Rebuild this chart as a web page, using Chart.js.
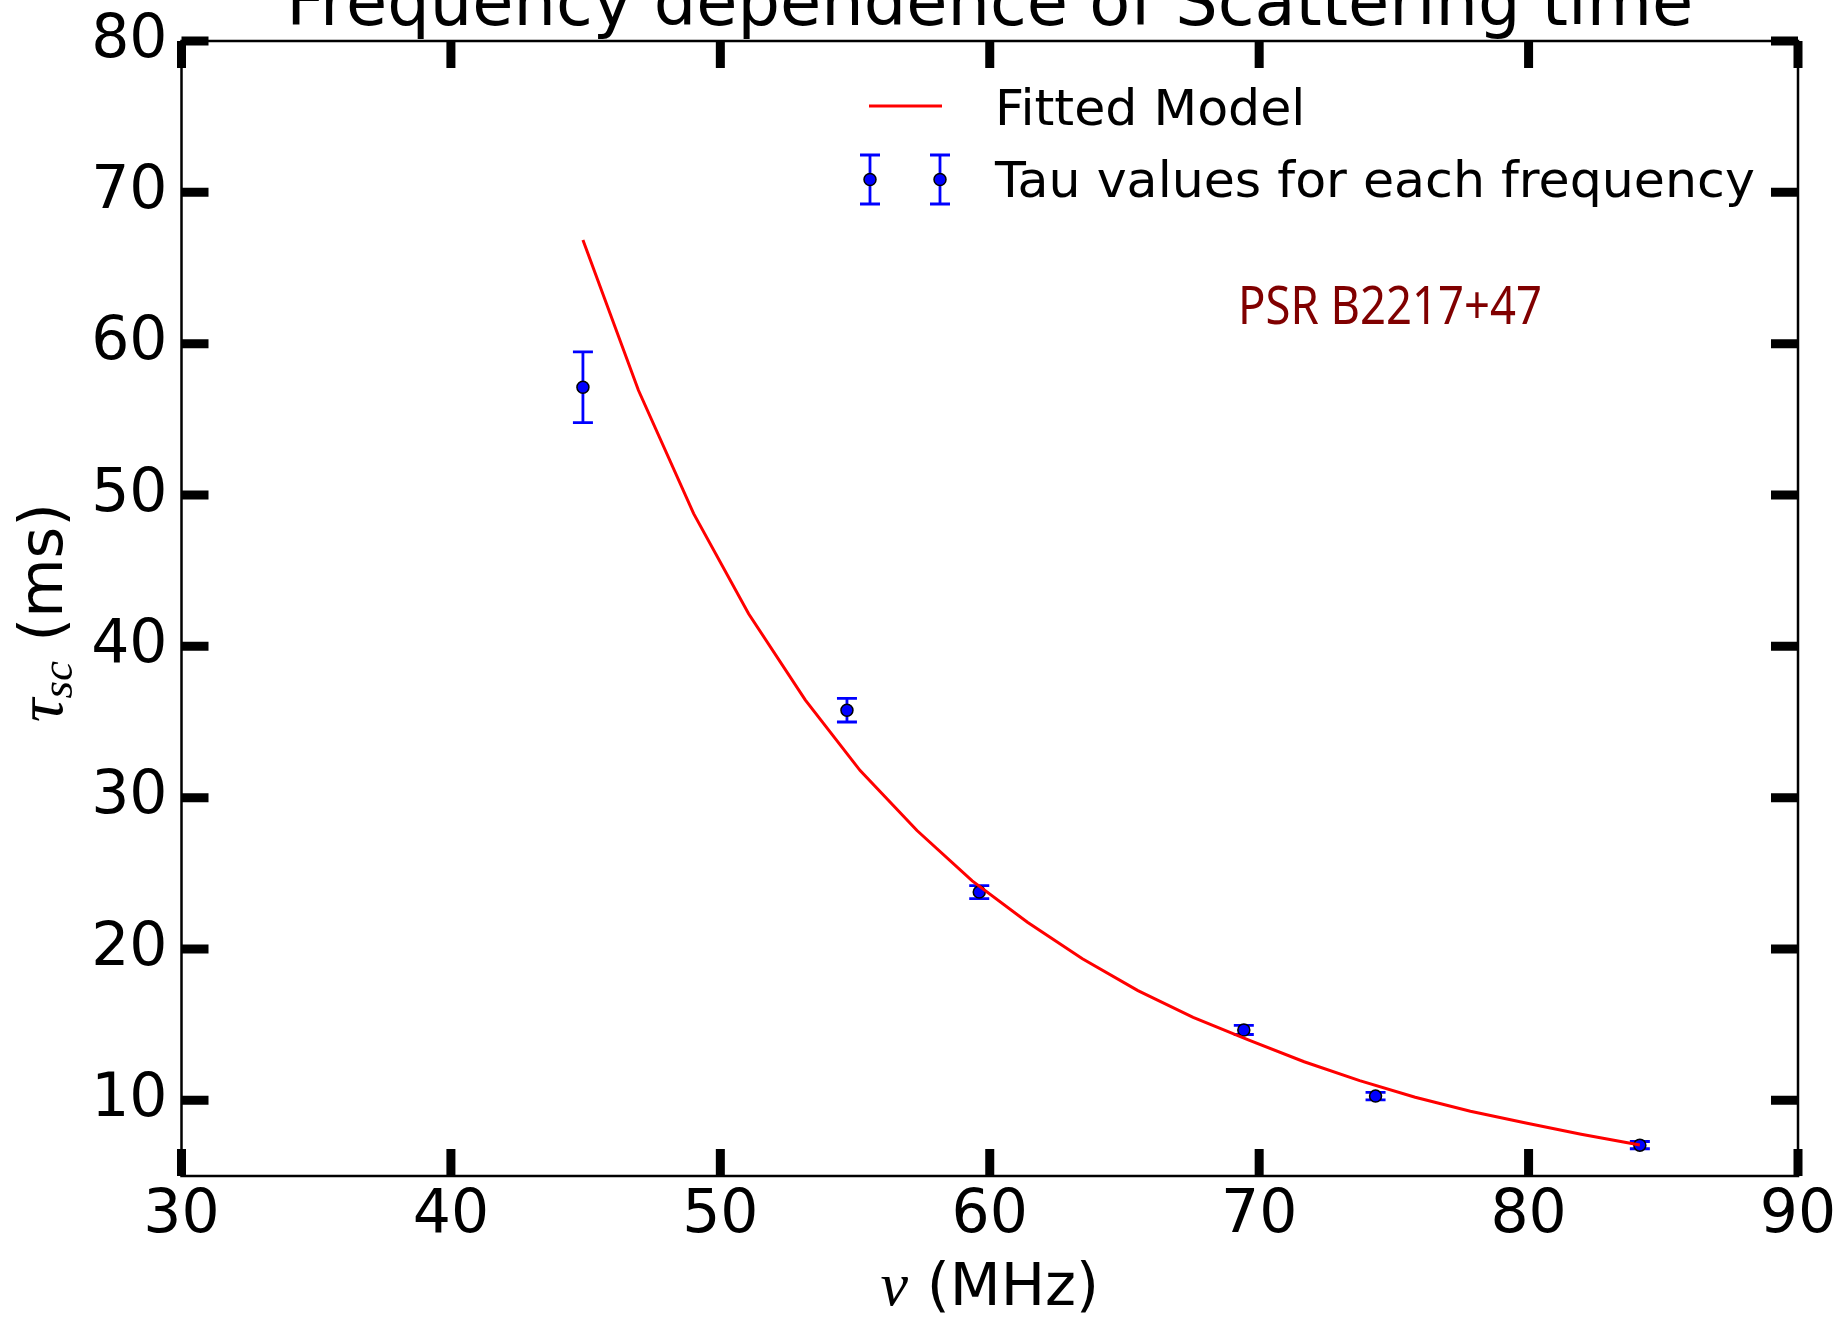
<!DOCTYPE html>
<html>
<head>
<meta charset="utf-8">
<script src="https://cdn.jsdelivr.net/npm/chart.js@4.4.1/dist/chart.umd.min.js"></script>
<style>
  html, body { margin: 0; padding: 0; background: #fff; }
  #wrap { width: 1839px; height: 1322px; position: relative; }
</style>
</head>
<body>
<div id="wrap"><canvas id="myChart"></canvas></div>
<script>
// measured scattering time (ms) per observing frequency (MHz)
let tauNu = [44.90, 54.70, 59.61, 69.43, 74.32, 84.13];
let tauVal = [57.12, 35.78, 23.76, 14.65, 10.28, 7.04];
let tauErr = [2.34, 0.78, 0.43, 0.30, 0.25, 0.24];

// fitted model
let fitNu = [44.90, 46.96, 49.01, 51.05, 53.15, 55.19, 57.30, 59.35, 61.40, 63.44,
  65.50, 67.55, 69.62, 71.67, 73.73, 75.79, 77.84, 79.90, 81.95, 84.13];
let fitTau = [66.85, 56.92, 48.77, 42.15, 36.46, 31.79, 27.83, 24.50, 21.77, 19.36,
  17.25, 15.48, 13.98, 12.55, 11.30, 10.20, 9.28, 8.50, 7.76, 7.05];

let xTicks = [30, 40, 50, 60, 70, 80, 90];
let yTicks = [10, 20, 30, 40, 50, 60, 70, 80];

let titleText = "Frequency dependence of Scattering time";
let legendLabels = ["Fitted Model", "Tau values for each frequency"];
let noteText = "PSR B2217+47";

Chart.defaults.font.family = "DejaVu Sans";
Chart.defaults.color = "#000";

// frame, inward ticks, error bars, legend and labels
const decorations = {
  id: "decorations",
  beforeDatasetDraw(chart, args) {
    if (args.index !== 1) return;
    const { ctx, scales: { x, y } } = chart;
    ctx.save();
    ctx.strokeStyle = "#0000ff";
    ctx.lineWidth = 2.8;
    ctx.beginPath();
    for (let i = 0; i < tauNu.length; i++) {
      const px = x.getPixelForValue(tauNu[i]);
      const top = y.getPixelForValue(tauVal[i] + tauErr[i]);
      const bot = y.getPixelForValue(tauVal[i] - tauErr[i]);
      ctx.moveTo(px, top); ctx.lineTo(px, bot);
      ctx.moveTo(px - 10, top); ctx.lineTo(px + 10, top);
      ctx.moveTo(px - 10, bot); ctx.lineTo(px + 10, bot);
    }
    ctx.stroke();
    ctx.restore();
  },
  afterDraw(chart) {
    const { ctx, chartArea: a, scales: { x, y } } = chart;
    ctx.save();
    ctx.strokeStyle = "#000";
    ctx.lineWidth = 2.5;
    ctx.strokeRect(a.left, a.top, a.right - a.left, a.bottom - a.top);

    ctx.lineWidth = 9;
    ctx.beginPath();
    x.ticks.forEach((t) => {
      const px = x.getPixelForValue(t.value);
      ctx.moveTo(px, a.bottom); ctx.lineTo(px, a.bottom - 27);
      ctx.moveTo(px, a.top); ctx.lineTo(px, a.top + 27);
    });
    y.ticks.forEach((t) => {
      const py = y.getPixelForValue(t.value);
      ctx.moveTo(a.left, py); ctx.lineTo(a.left + 27, py);
      ctx.moveTo(a.right, py); ctx.lineTo(a.right - 27, py);
    });
    ctx.stroke();

    // title (runs off the top of the figure)
    const cx = (a.left + a.right) / 2;
    ctx.fillStyle = "#000";
    ctx.textAlign = "center";
    ctx.textBaseline = "alphabetic";
    ctx.font = "67px 'DejaVu Sans'";
    ctx.fillText(titleText, cx, 25);

    // legend
    ctx.strokeStyle = "#ff0000";
    ctx.lineWidth = 3;
    ctx.beginPath();
    ctx.moveTo(869, 106); ctx.lineTo(942, 106);
    ctx.stroke();
    [870, 940].forEach((lx) => {
      ctx.strokeStyle = "#0000ff";
      ctx.lineWidth = 2.8;
      ctx.beginPath();
      ctx.moveTo(lx, 155); ctx.lineTo(lx, 204);
      ctx.moveTo(lx - 10, 155); ctx.lineTo(lx + 10, 155);
      ctx.moveTo(lx - 10, 204); ctx.lineTo(lx + 10, 204);
      ctx.stroke();
      ctx.beginPath();
      ctx.arc(lx, 179.5, 6, 0, Math.PI * 2);
      ctx.fillStyle = "#0000ff";
      ctx.fill();
      ctx.strokeStyle = "#000";
      ctx.lineWidth = 1.5;
      ctx.stroke();
    });
    ctx.fillStyle = "#000";
    ctx.textAlign = "left";
    ctx.font = "50.6px 'DejaVu Sans'";
    ctx.fillText(legendLabels[0], 995, 125);
    ctx.fillText(legendLabels[1], 995, 197);

    // pulsar name
    ctx.fillStyle = "#800000";
    ctx.font = "52px 'Noto Sans'";
    ctx.fillText(noteText, 1238, 324, 304);

    // x axis label: nu (MHz)
    ctx.fillStyle = "#000";
    ctx.font = "italic 62px 'Liberation Serif'";
    const nuW = ctx.measureText("\u03bd").width;
    ctx.font = "59px 'DejaVu Sans'";
    const mhzW = ctx.measureText(" (MHz)").width;
    let sx = cx - (nuW + mhzW) / 2;
    ctx.font = "italic 62px 'Liberation Serif'";
    ctx.fillText("\u03bd", sx, 1305);
    ctx.font = "59px 'DejaVu Sans'";
    ctx.fillText(" (MHz)", sx + nuW, 1305);

    // y axis label: tau_sc (ms)
    const cy = (a.top + a.bottom) / 2;
    ctx.translate(62, cy + 4);
    ctx.rotate(-Math.PI / 2);
    ctx.font = "italic 66px 'Liberation Serif'";
    const tW = ctx.measureText("\u03c4").width;
    ctx.font = "italic 45px 'Liberation Serif'";
    const sW = ctx.measureText("sc").width;
    ctx.font = "61px 'DejaVu Sans'";
    const mW = ctx.measureText(" (ms)").width;
    let ty = -(tW + sW + mW) / 2;
    ctx.font = "italic 66px 'Liberation Serif'";
    ctx.fillText("\u03c4", ty, 0);
    ctx.font = "italic 45px 'Liberation Serif'";
    ctx.fillText("sc", ty + tW, 10);
    ctx.font = "61px 'DejaVu Sans'";
    ctx.fillText(" (ms)", ty + tW + sW, 0);
    ctx.restore();
  }
};

let mychart = document.getElementById("myChart").getContext("2d");
let scatterChart = new Chart(mychart, {
  type: "scatter",
  data: {
    datasets: [
      {
        label: legendLabels[0],
        data: fitNu.map((v, i) => ({ x: v, y: fitTau[i] })),
        showLine: true,
        borderColor: "#ff0000",
        borderWidth: 3,
        pointRadius: 0,
        fill: false,
        order: 0,
      },
      {
        label: legendLabels[1],
        data: tauNu.map((v, i) => ({ x: v, y: tauVal[i] })),
        backgroundColor: "#0000ff",
        borderColor: "#000",
        borderWidth: 1.5,
        pointRadius: 6,
        order: 1,
      },
    ],
  },
  options: {
    responsive: true,
    maintainAspectRatio: false,
    animation: false,
    layout: { padding: { left: 0, top: 41, right: 41, bottom: 0 } },
    plugins: { legend: { display: false }, tooltip: { enabled: false } },
    scales: {
      x: {
        type: "linear",
        min: 30,
        max: 90,
        afterBuildTicks: (s) => { s.ticks = xTicks.map((v) => ({ value: v })); },
        afterFit: (s) => { s.height = 146; s.paddingLeft = 0; s.paddingRight = 0; },
        grid: { display: false, drawTicks: false },
        border: { display: false },
        ticks: { font: { size: 60 }, padding: 4, maxRotation: 0 },
      },
      y: {
        type: "linear",
        min: 5,
        max: 80,
        afterBuildTicks: (s) => { s.ticks = yTicks.map((v) => ({ value: v })); },
        afterFit: (s) => { s.width = 181.5; s.paddingTop = 0; s.paddingBottom = 0; },
        grid: { display: false, drawTicks: false },
        border: { display: false },
        ticks: { font: { size: 60 }, padding: 14 },
      },
    },
  },
  plugins: [decorations],
});
</script>
</body>
</html>
